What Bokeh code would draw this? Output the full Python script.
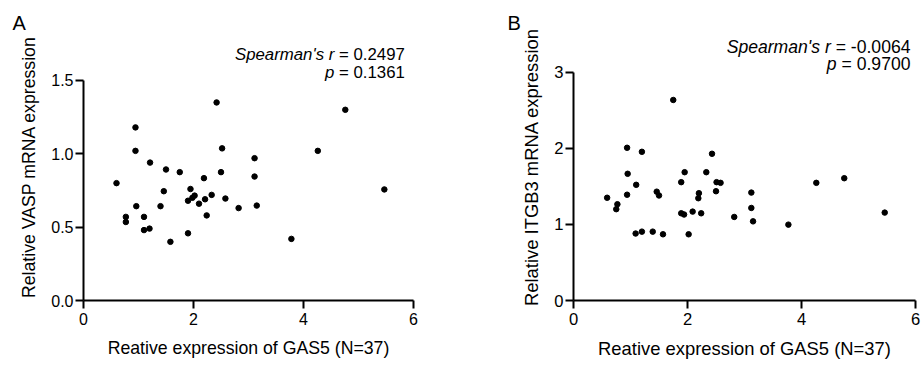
from bokeh.plotting import figure
from bokeh.models import Range1d, FixedTicker, Label, PrintfTickFormatter, Title
from bokeh.layouts import row
from bokeh.embed import file_html
from bokeh.resources import INLINE

FONT = "Liberation Sans"

# ---- data ----
gas5_a = [0.60, 0.77, 0.77, 0.945, 0.945, 0.96, 1.10, 1.10, 1.20, 1.21, 1.40, 1.46, 1.50,
          1.58, 1.75, 1.90, 1.90, 1.945, 1.98, 2.02, 2.10, 2.19, 2.21, 2.24, 2.33, 2.42,
          2.50, 2.52, 2.58, 2.82, 3.11, 3.11, 3.15, 3.78, 4.26, 4.76, 5.47]
vasp = [0.80, 0.57, 0.535, 1.18, 1.02, 0.643, 0.57, 0.48, 0.49, 0.94, 0.643, 0.745, 0.893,
        0.40, 0.875, 0.458, 0.68, 0.76, 0.70, 0.715, 0.66, 0.834, 0.69, 0.58, 0.72, 1.35,
        0.875, 1.037, 0.695, 0.63, 0.97, 0.845, 0.647, 0.42, 1.02, 1.30, 0.757]

gas5_b = [0.59, 0.77, 0.75, 0.94, 0.95, 0.94, 1.10, 1.09, 1.20, 1.20, 1.39, 1.46, 1.50,
          1.57, 1.75, 1.89, 1.89, 1.94, 1.95, 2.02, 2.09, 2.19, 2.20, 2.24, 2.33, 2.43,
          2.50, 2.51, 2.58, 2.82, 3.12, 3.12, 3.15, 3.77, 4.26, 4.75, 5.46]
itgb3 = [1.35, 1.265, 1.20, 2.007, 1.665, 1.39, 1.52, 0.88, 1.954, 0.905, 0.905, 1.43, 1.38,
         0.87, 2.635, 1.555, 1.146, 1.13, 1.686, 0.87, 1.168, 1.344, 1.41, 1.146, 1.686, 1.928,
         1.436, 1.555, 1.546, 1.098, 1.418, 1.216, 1.04, 0.997, 1.546, 1.607, 1.155]

x_ticks = [0, 2, 4, 6]
ya_ticks = [0, 0.5, 1.0, 1.5]
yb_ticks = [0, 1, 2, 3]

x_title = "Reative expression of GAS5 (N=37)"
ya_title = "Relative VASP mRNA expression"
yb_title = "Relative ITGB3 mRNA expression"

stats_a = ("Spearman's r", "= 0.2497", "p", "= 0.1361")
stats_b = ("Spearman's r", "= -0.0064", "p", "= 0.9700")


def panel(letter, xs, ys, y_ticks, y_fmt, y_top, y_end, y_title, stats,
          width, bl, br, fs_title, fs_tick, fs_ann, ann_x, ann_y1, ann_y2,
          letter_off, y_standoff):
    p = figure(width=width, height=365, output_backend="svg", toolbar_location=None,
               x_range=Range1d(0, 6), y_range=Range1d(0, y_end),
               min_border_left=bl, min_border_right=br, min_border_top=33,
               min_border_bottom=65)
    p.outline_line_color = None
    p.grid.visible = False
    p.background_fill_color = "white"
    p.border_fill_color = "white"

    p.title = Title(text=letter, align="left", offset=letter_off, standoff=0,
                    vertical_align="bottom", text_font=FONT, text_font_size="20px",
                    text_font_style="normal", text_color="black")

    p.scatter(xs, ys, size=5.5, color="black")

    for ax in (p.xaxis[0], p.yaxis[0]):
        ax.axis_line_width = 2
        ax.axis_line_color = "black"
        ax.major_tick_line_width = 2
        ax.major_tick_line_color = "black"
        ax.major_tick_in = 0
        ax.major_tick_out = 8
        ax.minor_tick_in = 0
        ax.minor_tick_out = 0
        ax.major_label_text_font = FONT
        ax.major_label_text_font_size = f"{fs_tick}px"
        ax.major_label_text_color = "black"
        ax.axis_label_text_font = FONT
        ax.axis_label_text_font_size = f"{fs_title}px"
        ax.axis_label_text_font_style = "normal"
        ax.axis_label_text_color = "black"

    xa = p.xaxis[0]
    xa.ticker = FixedTicker(ticks=x_ticks)
    xa.bounds = (0, 6)
    xa.axis_label = x_title
    xa.major_label_standoff = 4
    xa.axis_label_standoff = 10

    ya = p.yaxis[0]
    ya.ticker = FixedTicker(ticks=y_ticks)
    ya.formatter = PrintfTickFormatter(format=y_fmt)
    ya.bounds = (0, y_top)
    ya.axis_label = y_title
    ya.major_label_standoff = 2
    ya.axis_label_standoff = y_standoff

    # statistics annotation (italic part + normal part)
    em_gap = fs_ann * 0.278

    def width_of(s):
        w = {"=": 0.584, " ": 0.278, ".": 0.278, "-": 0.333}
        return sum(w.get(c, 0.556) for c in s) * fs_ann

    for it, nm, yy in ((stats[0], stats[1], ann_y1), (stats[2], stats[3], ann_y2)):
        p.add_layout(Label(x=ann_x, y=yy, text=nm, text_align="right",
                           text_baseline="alphabetic", text_font=FONT,
                           text_font_size=f"{fs_ann}px", text_color="black"))
        p.add_layout(Label(x=ann_x, y=yy, text=it, text_align="right",
                           text_baseline="alphabetic", text_font=FONT,
                           text_font_style="italic",
                           x_offset=-(width_of(nm) + em_gap),
                           text_font_size=f"{fs_ann}px", text_color="black"))
    return p


pa = panel("A", gas5_a, vasp, ya_ticks, "%.1f", 1.5, 267 / 146.7, ya_title, stats_a,
           width=460, bl=83, br=47, fs_title=17.7, fs_tick=16, fs_ann=16.8,
           ann_x=5.842, ann_y1=1.679, ann_y2=1.553, letter_off=-71, y_standoff=9)

pb = panel("B", gas5_b, itgb3, yb_ticks, "%d", 3, 267 / 76.1, yb_title, stats_b,
           width=462, bl=113, br=7, fs_title=18.4, fs_tick=16.6, fs_ann=17.6,
           ann_x=5.912, ann_y1=3.335, ann_y2=3.104, letter_off=-66, y_standoff=9)

layout = row(pa, pb)
open("out.html", "w").write(file_html(layout, INLINE))
